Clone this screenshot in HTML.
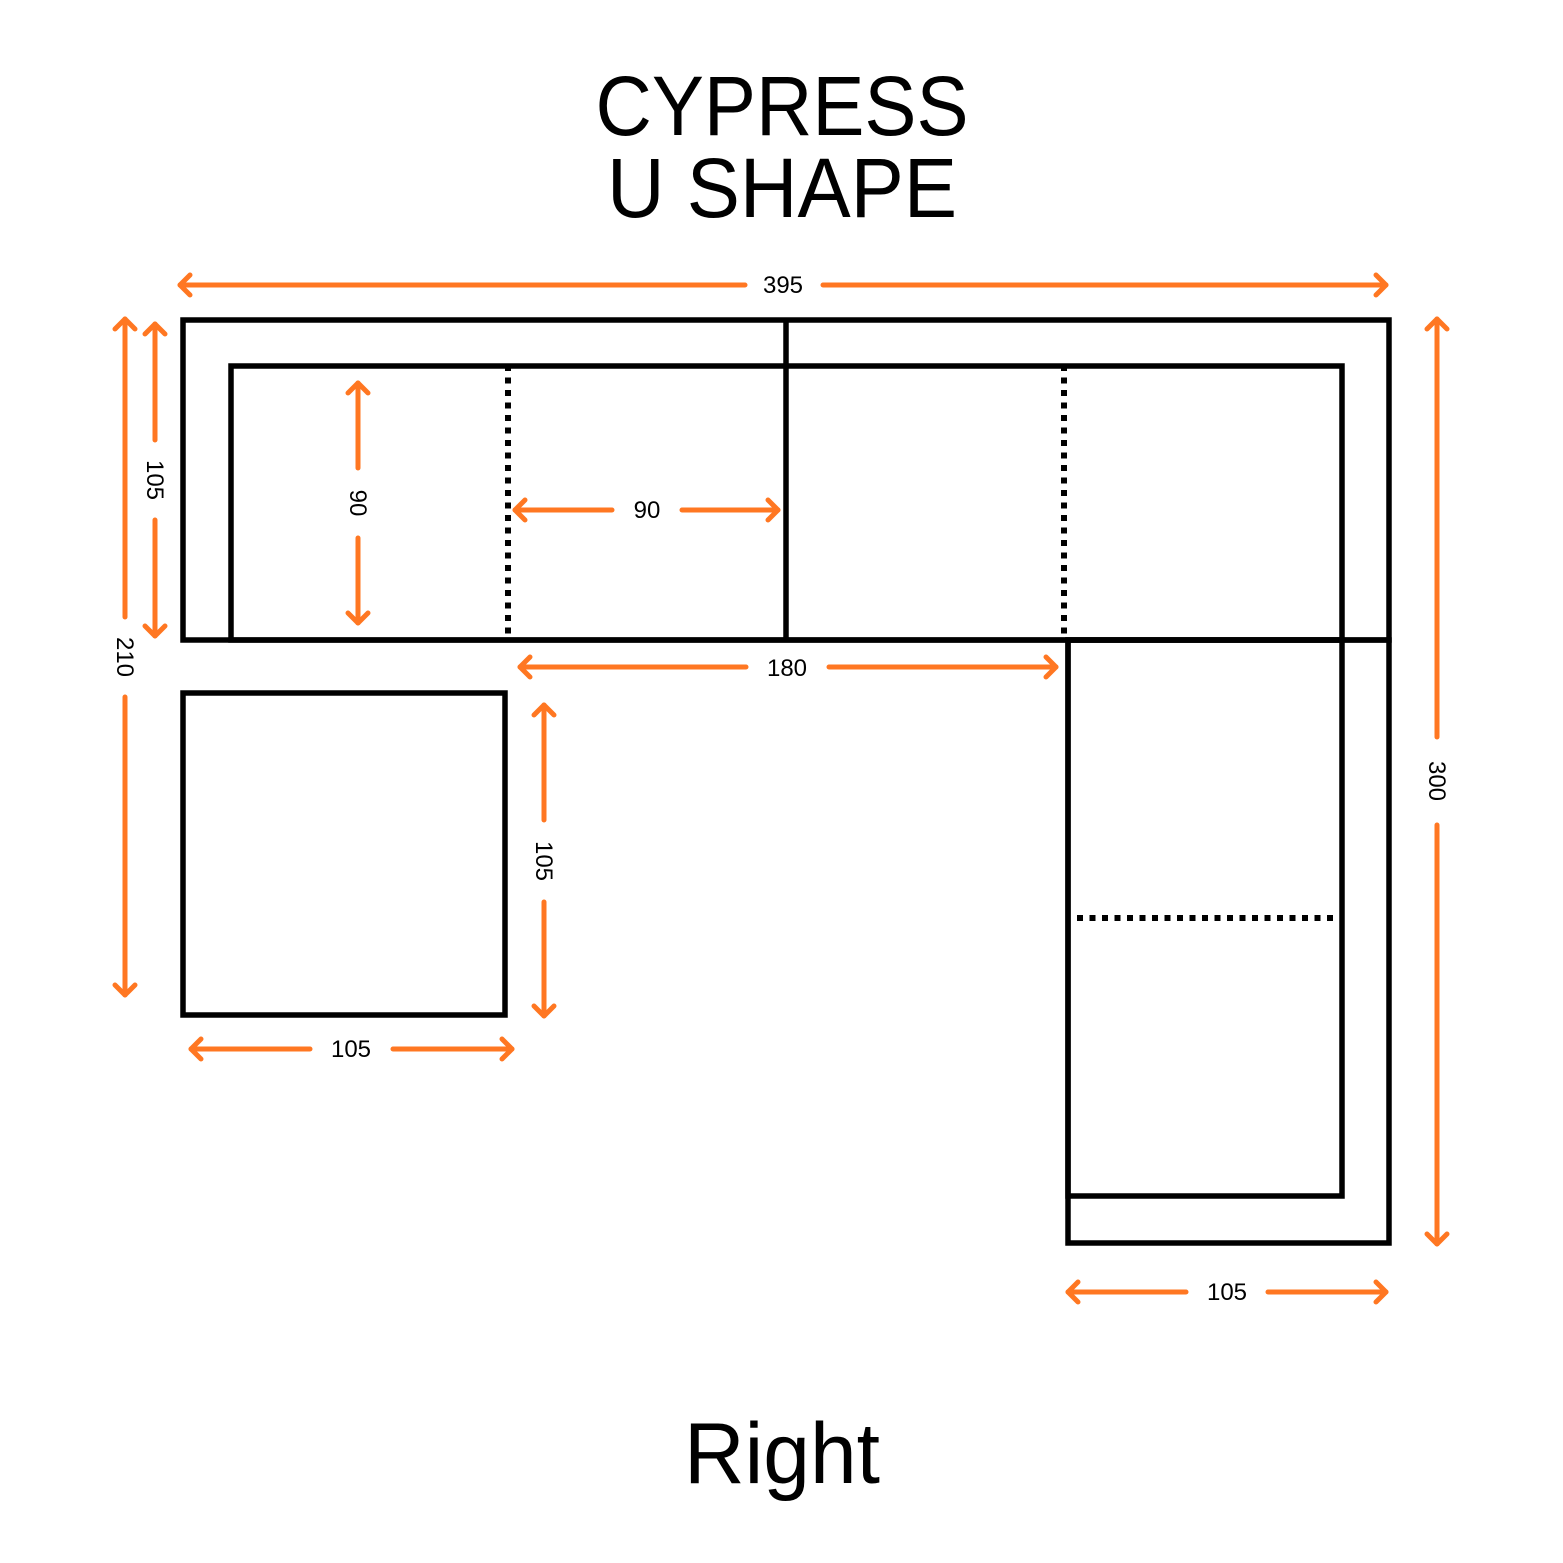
<!DOCTYPE html>
<html><head><meta charset="utf-8"><style>html,body{margin:0;padding:0;background:#fff}svg{display:block}</style></head>
<body>
<svg width="1563" height="1563" viewBox="0 0 1563 1563" xmlns="http://www.w3.org/2000/svg">
<rect width="1563" height="1563" fill="#fff"/>
<g font-family="Liberation Sans, sans-serif" fill="#000" text-anchor="middle">
<text x="782" y="135" font-size="84" textLength="373" lengthAdjust="spacingAndGlyphs">CYPRESS</text>
<text x="782" y="217" font-size="84" textLength="350" lengthAdjust="spacingAndGlyphs">U SHAPE</text>
<text x="782" y="1483" font-size="86" textLength="196" lengthAdjust="spacingAndGlyphs">Right</text>
</g>
<g fill="none" stroke="#000" stroke-width="5.5">
<rect x="183" y="320" width="1206" height="320"/>
<rect x="231" y="366" width="1111" height="274"/>
<line x1="786" y1="320" x2="786" y2="640"/>
<rect x="1068" y="640" width="321" height="603"/>
<rect x="1068" y="640" width="274" height="556"/>
<rect x="183" y="693" width="322" height="322"/>
</g>
<g stroke="#000" stroke-width="6" stroke-dasharray="6 6.5" fill="none">
<line x1="508" y1="365" x2="508" y2="634"/>
<line x1="1064" y1="365" x2="1064" y2="634"/>
<line x1="1077" y1="918" x2="1336" y2="918"/>
</g>
<g stroke="#ff7722" stroke-width="5" fill="none" stroke-linecap="round" stroke-linejoin="round">
<!-- 395 -->
<line x1="180" y1="285" x2="745" y2="285"/><line x1="823" y1="285" x2="1386" y2="285"/>
<polyline points="190,275 180,285 190,295"/><polyline points="1376,275 1386,285 1376,295"/>
<!-- 210 -->
<line x1="125" y1="319" x2="125" y2="617"/><line x1="125" y1="697" x2="125" y2="995"/>
<polyline points="115,329 125,319 135,329"/><polyline points="115,985 125,995 135,985"/>
<!-- 105 left -->
<line x1="155" y1="324" x2="155" y2="440"/><line x1="155" y1="520" x2="155" y2="636"/>
<polyline points="145,334 155,324 165,334"/><polyline points="145,626 155,636 165,626"/>
<!-- 90 vertical -->
<line x1="358" y1="383" x2="358" y2="468"/><line x1="358" y1="538" x2="358" y2="623"/>
<polyline points="348,393 358,383 368,393"/><polyline points="348,613 358,623 368,613"/>
<!-- 90 horizontal -->
<line x1="515" y1="510" x2="612" y2="510"/><line x1="682" y1="510" x2="778" y2="510"/>
<polyline points="525,500 515,510 525,520"/><polyline points="768,500 778,510 768,520"/>
<!-- 180 -->
<line x1="520" y1="667" x2="746" y2="667"/><line x1="829" y1="667" x2="1056" y2="667"/>
<polyline points="530,657 520,667 530,677"/><polyline points="1046,657 1056,667 1046,677"/>
<!-- 105 ottoman vertical -->
<line x1="544" y1="705" x2="544" y2="820"/><line x1="544" y1="902" x2="544" y2="1016"/>
<polyline points="534,715 544,705 554,715"/><polyline points="534,1006 544,1016 554,1006"/>
<!-- 105 ottoman bottom -->
<line x1="191" y1="1049" x2="310" y2="1049"/><line x1="393" y1="1049" x2="512" y2="1049"/>
<polyline points="201,1039 191,1049 201,1059"/><polyline points="502,1039 512,1049 502,1059"/>
<!-- 105 right bottom -->
<line x1="1068" y1="1292" x2="1186" y2="1292"/><line x1="1268" y1="1292" x2="1386" y2="1292"/>
<polyline points="1078,1282 1068,1292 1078,1302"/><polyline points="1376,1282 1386,1292 1376,1302"/>
<!-- 300 -->
<line x1="1437" y1="319" x2="1437" y2="737"/><line x1="1437" y1="825" x2="1437" y2="1244"/>
<polyline points="1427,329 1437,319 1447,329"/><polyline points="1427,1234 1437,1244 1447,1234"/>
</g>
<g font-family="Liberation Sans, sans-serif" font-size="24" fill="#000" text-anchor="middle">
<text x="783" y="293">395</text>
<text x="647" y="518">90</text>
<text x="787" y="676">180</text>
<text x="351" y="1057">105</text>
<text x="1227" y="1300">105</text>
<text transform="translate(117,657) rotate(90)">210</text>
<text transform="translate(147,480) rotate(90)">105</text>
<text transform="translate(350,503) rotate(90)">90</text>
<text transform="translate(536,861) rotate(90)">105</text>
<text transform="translate(1429,781) rotate(90)">300</text>
</g>
</svg>
</body></html>
